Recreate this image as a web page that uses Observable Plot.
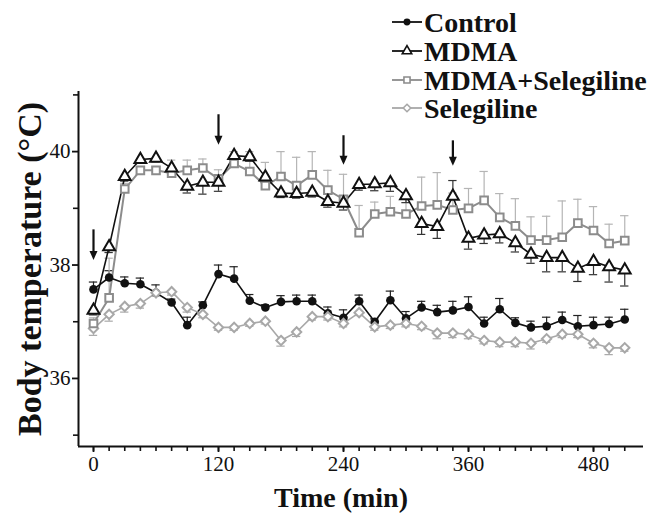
<!DOCTYPE html>
<html>
<head>
<meta charset="utf-8">
<script src="https://cdn.jsdelivr.net/npm/d3@7"></script>
<script src="https://cdn.jsdelivr.net/npm/@observablehq/plot@0.6"></script>
<style>
  html, body { margin: 0; padding: 0; background: #fff; }
  #wrap { position: relative; width: 655px; height: 517px; }
  #legend { position: absolute; left: 0; top: 0; }
</style>
</head>
<body>
<div id="wrap"></div>
<script>
// ---- data ----
const times = [0,15,30,45,60,75,90,105,120,135,150,165,180,195,210,225,240,255,270,285,300,315,330,345,360,375,390,405,420,435,450,465,480,495,510];
const xTickLabels = [0,120,240,360,480];
const yTickLabels = [36,38,40];
const yMinorTicks = [35,37,39,41];
const seriesNames = ["Control","MDMA","MDMA+Selegiline","Selegiline"];

const control = [37.57,37.78,37.68,37.66,37.51,37.34,36.94,37.29,37.84,37.76,37.37,37.25,37.35,37.36,37.36,37.15,37.07,37.36,37.00,37.38,37.06,37.25,37.17,37.20,37.26,36.97,37.22,36.98,36.90,36.92,37.03,36.92,36.94,36.96,37.04];
const controlSem = [0.13,0.12,0.11,0.11,0.14,0.06,0.14,0.06,0.16,0.21,0.11,0.05,0.11,0.11,0.11,0.11,0.14,0.11,0.05,0.16,0.12,0.11,0.12,0.16,0.18,0.11,0.19,0.09,0.11,0.16,0.14,0.19,0.14,0.12,0.18];

const mdma = [37.20,38.32,39.56,39.86,39.88,39.71,39.39,39.46,39.46,39.93,39.91,39.55,39.27,39.26,39.28,39.12,39.09,39.42,39.43,39.45,39.22,38.73,38.68,39.21,38.47,38.53,38.55,38.39,38.19,38.13,38.13,37.94,38.06,37.97,37.91];
// signed: negative = error bar drawn below the mean
const mdmaSem = [-0.08,-0.10,-0.08,-0.06,-0.06,-0.08,-0.12,-0.21,-0.16,-0.08,-0.08,-0.10,-0.08,-0.08,-0.08,-0.10,-0.12,-0.10,-0.12,-0.15,-0.12,-0.19,-0.21,0.28,-0.19,-0.15,-0.16,-0.16,-0.16,-0.25,-0.25,-0.23,-0.23,-0.27,-0.28];

const mdmaSel = [36.97,37.42,39.34,39.67,39.67,39.62,39.67,39.71,39.52,39.79,39.65,39.40,39.56,39.40,39.59,39.32,39.16,38.57,38.90,38.94,38.90,39.04,39.06,38.97,39.00,39.14,38.84,38.69,38.44,38.44,38.49,38.74,38.61,38.38,38.43];
const mdmaSelSem = [0.10,0.70,0.10,0.06,0.06,0.23,0.18,0.16,0.16,0.21,0.35,0.41,0.44,0.50,0.41,0.35,0.44,0.48,0.21,0.27,0.27,0.51,0.57,0.30,0.35,0.51,0.42,0.48,0.41,0.42,0.64,0.42,0.42,0.34,0.44];

const selegiline = [36.88,37.13,37.27,37.32,37.51,37.53,37.25,37.13,36.90,36.90,36.97,37.01,36.67,36.82,37.09,37.09,36.97,37.16,36.91,36.94,36.97,36.92,36.80,36.80,36.78,36.67,36.64,36.64,36.62,36.70,36.78,36.78,36.62,36.54,36.54];
// drawn below the mean
const selegilineSem = [0.12,0.12,0.10,0.08,0.06,0.06,0.08,0.06,0.05,0.05,0.05,0.05,0.10,0.08,0.06,0.06,0.06,0.05,0.06,0.06,0.06,0.06,0.10,0.08,0.08,0.06,0.08,0.08,0.10,0.06,0.06,0.06,0.08,0.12,0.06];

// injection arrows
const arrowTimes = [0,120,240,345];
const arrowTop = [38.62,40.65,40.28,40.19];
const arrowTip = [38.09,40.12,39.77,39.75];

// ---- build table ----
const vals = [control, mdma, mdmaSel, selegiline];
const sems = [controlSem, mdmaSem, mdmaSelSem, selegilineSem.map(d => -d)];
const rows = [];
seriesNames.forEach((name, i) => {
  times.forEach((t, j) => rows.push({series: name, t, v: vals[i][j], e: vals[i][j] + sems[i][j]}));
});
const arrows = arrowTimes.map((t, i) => ({t, top: arrowTop[i], tip: arrowTip[i]}));
const of = name => rows.filter(d => d.series === name);

const style = {
  "Control":         {line: "#111", err: "#222", symbol: "circle", fill: "#111", stroke: "none", r: 4.3, sw: 0},
  "MDMA":            {line: "#111", err: "#333", symbol: "triangle", fill: "white", stroke: "#111", r: 4.4, sw: 2},
  "MDMA+Selegiline": {line: "#8c8c8c", err: "#b5b5b5", symbol: "square", fill: "white", stroke: "#8c8c8c", r: 4.3, sw: 2},
  "Selegiline":      {line: "#a8a8a8", err: "#a8a8a8", symbol: "diamond2", fill: "white", stroke: "#a8a8a8", r: 4.2, sw: 2}
};

const arrowHead = {draw(ctx, size) { ctx.moveTo(0, 0); ctx.lineTo(-4, -9); ctx.lineTo(4, -9); ctx.closePath(); }};

const X0 = -14.4, X1 = 528, Y0 = 34.8, Y1 = 41.06;
const font = "'Liberation Serif', 'Times New Roman', serif";

const marks = [];
const drawOrder = ["Control", "Selegiline", "MDMA+Selegiline", "MDMA"];
for (const name of drawOrder) {
  const s = style[name];
  marks.push(Plot.ruleX(of(name), {x: "t", y1: "v", y2: "e", stroke: s.err, strokeWidth: 1.2}));
  marks.push(Plot.ruleY(of(name), {y: "e", x1: d => d.t - 4, x2: d => d.t + 4, stroke: s.err, strokeWidth: 1.2}));
}
for (const name of drawOrder) {
  const s = style[name];
  marks.push(Plot.line(of(name), {x: "t", y: "v", stroke: s.line, strokeWidth: name === "MDMA+Selegiline" ? 2 : 1.6}));
}
for (const name of drawOrder) {
  const s = style[name];
  marks.push(Plot.dot(of(name), {x: "t", y: "v", symbol: () => s.symbol, r: s.r, fill: s.fill, stroke: s.stroke, strokeWidth: s.sw}));
}

const chart = Plot.plot({
  width: 655,
  height: 517,
  marginLeft: 78,
  marginRight: 12,
  marginTop: 91,
  marginBottom: 71,
  style: {fontFamily: font, background: "white", color: "#111"},
  x: {domain: [X0, X1], axis: null},
  y: {domain: [Y0, Y1], axis: null},
  symbol: {type: "identity"},
  marks: [
    Plot.ruleX([X0], {stroke: "#111", strokeWidth: 2}),
    Plot.ruleY([Y0], {stroke: "#111", strokeWidth: 2}),
    Plot.axisY({ticks: yTickLabels, tickSize: 6, tickPadding: 2, tickFormat: d => d, fontSize: 21, strokeWidth: 1.8, label: null}),
    Plot.axisY({ticks: yMinorTicks, tickSize: 5, tickFormat: () => "", strokeWidth: 1.6, label: null}),
    Plot.axisX({ticks: xTickLabels, tickSize: 6, tickPadding: 4, tickFormat: d => d, fontSize: 21, strokeWidth: 1.8, label: null}),
    Plot.axisX({ticks: times, tickSize: 5, tickFormat: () => "", strokeWidth: 1.6, label: null}),
    Plot.text(["Body temperature (°C)"], {frameAnchor: "left", textAnchor: "middle", lineAnchor: "middle", rotate: -90, dx: -48, fontSize: 34, fontWeight: "bold", fill: "#111"}),
    Plot.text(["Time (min)"], {frameAnchor: "bottom", textAnchor: "middle", lineAnchor: "middle", dx: -20, dy: 52, fontSize: 28, fontWeight: "bold", fill: "#111"}),
    ...marks,
    Plot.ruleX(arrows, {x: "t", y1: "top", y2: "tip", stroke: "#111", strokeWidth: 2.2, insetBottom: 6}),
    Plot.dot(arrows, {x: "t", y: "tip", symbol: () => arrowHead, fill: "#111", stroke: "none"})
  ]
});

const wrap = document.getElementById("wrap");
wrap.appendChild(chart);

// ---- legend (above the plot, top right) ----
const lg = d3.select(wrap).append("svg").attr("id", "legend").attr("width", 655).attr("height", 130)
  .style("font-family", font);
const legendY = [22, 51, 80, 108];
seriesNames.forEach((name, i) => {
  const s = style[name];
  const g = lg.append("g").attr("transform", `translate(0,${legendY[i]})`);
  g.append("line").attr("x1", 392).attr("x2", 422).attr("y1", 0).attr("y2", 0)
    .attr("stroke", s.line).attr("stroke-width", 1.8);
  const typ = {circle: d3.symbolCircle, triangle: d3.symbolTriangle, square: d3.symbolSquare, diamond2: d3.symbolDiamond2}[s.symbol];
  g.append("path").attr("transform", "translate(407,0)")
    .attr("d", d3.symbol(typ, Math.PI * (s.r * 0.8) ** 2)())
    .attr("fill", s.fill).attr("stroke", s.stroke).attr("stroke-width", s.sw ? 1.6 : 0);
  g.append("text").attr("x", 424).attr("y", 0).attr("dy", "0.34em")
    .attr("font-size", 28).attr("font-weight", "bold").attr("fill", "#111").text(name);
});
</script>
</body>
</html>
